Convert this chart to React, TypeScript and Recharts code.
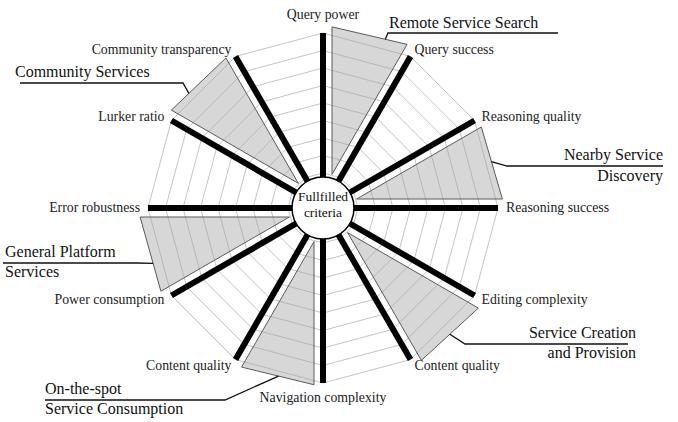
import React from 'react';
import { RadarChart, Radar, PolarGrid, PolarAngleAxis, PolarRadiusAxis } from 'recharts';

// ---------- data ----------
const criteria = [
  'Query power',
  'Query success',
  'Reasoning quality',
  'Reasoning success',
  'Editing complexity',
  'Content quality',
  'Navigation complexity',
  'Content quality',
  'Power consumption',
  'Error robustness',
  'Lurker ratio',
  'Community transparency',
];
// fulfilled-criteria extent of each grey wedge side (scale 0..10, wedges overshoot the grid)
const fulfilled = [10.35, 10.5, 10.15, 10.25, 10.55, 10.35, 10.1, 10.2, 10.4, 10.45, 10.3, 10.2];
// the full axis length drawn as thick spokes
const axisMax = [10, 10, 10, 10, 10, 10, 10, 10, 10, 10, 10, 10];
const groupLines = [
  ['Remote Service Search'],
  ['Nearby Service', 'Discovery'],
  ['Service Creation', 'and Provision'],
  ['On-the-spot', 'Service Consumption'],
  ['General Platform', 'Services'],
  ['Community Services'],
];
const centerLines = ['Fullfilled', 'criteria'];
const radiusDomain = [0, 10];
const radiusTickCount = 11;

// ---------- layout (positions / styles) ----------
const W = 678;
const H = 422;
const CX = 323;
const CY = 208;
const OUTER = 175;
const FONT = "'Liberation Serif', 'DejaVu Serif', serif";
const WEDGE_GAP = 9;

type LineLayout = { x: number; y: number; anchor: 'start' | 'end' | 'middle' };
const groupLayout: { t: number; elbow: [number, number]; end: number; lines: LineLayout[] }[] = [
  { t: 0.71, elbow: [388, 33], end: 558, lines: [{ x: 389, y: 28, anchor: 'start' }] },
  { t: 0.48, elbow: [507, 166], end: 663, lines: [{ x: 663, y: 160, anchor: 'end' }, { x: 663, y: 181, anchor: 'end' }] },
  { t: 0.5, elbow: [465, 344], end: 628, lines: [{ x: 636, y: 338, anchor: 'end' }, { x: 636, y: 358, anchor: 'end' }] },
  { t: 0.49, elbow: [225, 400], end: 45, lines: [{ x: 45, y: 394, anchor: 'start' }, { x: 45, y: 414, anchor: 'start' }] },
  { t: 0.375, elbow: [137, 263], end: 3, lines: [{ x: 5, y: 257, anchor: 'start' }, { x: 5, y: 277, anchor: 'start' }] },
  { t: 0.32, elbow: [183, 83], end: 20, lines: [{ x: 15, y: 77, anchor: 'start' }] },
];

const data = criteria.map((c, i) => ({
  key: `c${i}`,
  fulfilled: fulfilled[i],
  axisMax: axisMax[i],
}));

const unit = (angleDeg: number) => {
  const r = (angleDeg * Math.PI) / 180;
  return [Math.cos(r), -Math.sin(r)];
};
const norm = (v: number[]) => {
  const l = Math.hypot(v[0], v[1]) || 1;
  return [v[0] / l, v[1] / l];
};

const WedgeShape = (props: any) => {
  const pts = props.points || [];
  const els: React.ReactNode[] = [];
  for (let g = 0; g < groupLines.length; g++) {
    const a = pts[2 * g];
    const b = pts[2 * g + 1];
    if (!a || !b) continue;
    const cx = a.cx ?? CX;
    const cy = a.cy ?? CY;
    const ua = unit(a.angle);
    const ub = unit(b.angle);
    const m = norm([ua[0] + ub[0], ua[1] + ub[1]]);
    const dotA = m[0] * ua[0] + m[1] * ua[1];
    const dotB = m[0] * ub[0] + m[1] * ub[1];
    const na = norm([m[0] - dotA * ua[0], m[1] - dotA * ua[1]]);
    const nb = norm([m[0] - dotB * ub[0], m[1] - dotB * ub[1]]);
    const half = Math.acos(Math.max(-1, Math.min(1, ua[0] * ub[0] + ua[1] * ub[1]))) / 2;
    const apexD = WEDGE_GAP / Math.sin(half);
    const A = [cx + a.radius * ua[0] + WEDGE_GAP * na[0], cy + a.radius * ua[1] + WEDGE_GAP * na[1]];
    const B = [cx + b.radius * ub[0] + WEDGE_GAP * nb[0], cy + b.radius * ub[1] + WEDGE_GAP * nb[1]];
    const P = [cx + m[0] * apexD, cy + m[1] * apexD];
    els.push(
      <polygon
        key={`w${g}`}
        points={`${P[0]},${P[1]} ${A[0]},${A[1]} ${B[0]},${B[1]}`}
        fill="#a6a6a6"
        fillOpacity={0.45}
        stroke="#5a5a5a"
        strokeWidth={1}
        strokeLinejoin="miter"
      />
    );
    const lay = groupLayout[g];
    const L = [A[0] + lay.t * (B[0] - A[0]), A[1] + lay.t * (B[1] - A[1])];
    els.push(
      <polyline
        key={`l${g}`}
        points={`${L[0]},${L[1]} ${lay.elbow[0]},${lay.elbow[1]} ${lay.end},${lay.elbow[1]}`}
        fill="none"
        stroke="#111"
        strokeWidth={1.3}
      />
    );
    groupLines[g].forEach((txt, j) => {
      const ln = lay.lines[j];
      els.push(
        <text
          key={`t${g}-${j}`}
          x={ln.x}
          y={ln.y}
          textAnchor={ln.anchor}
          fontFamily={FONT}
          fontSize={16}
          fill="#111"
        >
          {txt}
        </text>
      );
    });
  }
  return <g>{els}</g>;
};

const SpokeShape = (props: any) => {
  const pts = props.points || [];
  const cx = pts[0]?.cx ?? CX;
  const cy = pts[0]?.cy ?? CY;
  return (
    <g>
      {pts.map((p: any, i: number) => (
        <line key={i} x1={cx} y1={cy} x2={p.x} y2={p.y} stroke="#000" strokeWidth={6} />
      ))}
      <circle cx={cx} cy={cy} r={31} fill="#fff" stroke="#000" strokeWidth={1.5} />
      {centerLines.map((t, i) => (
        <text
          key={t}
          x={cx}
          y={cy - 7 + i * 16}
          textAnchor="middle"
          fontFamily={FONT}
          fontSize={13.5}
          fill="#111"
        >
          {t}
        </text>
      ))}
    </g>
  );
};

const renderTick = (p: any) => {
  const { x, y, payload } = p;
  const idx = Number(String(payload.value).slice(1));
  const ang = (payload.coordinate * Math.PI) / 180;
  const c = Math.cos(ang);
  const s = Math.sin(ang);
  let anchor: 'start' | 'end' | 'middle' = Math.abs(c) < 0.01 ? 'middle' : c > 0 ? 'start' : 'end';
  let dy = 4;
  if (anchor === 'middle') dy = s > 0 ? -6 : 11;
  return (
    <text x={x} y={y + dy} textAnchor={anchor} fontFamily={FONT} fontSize={13.8} fill="#222">
      {criteria[idx]}
    </text>
  );
};

export default function App() {
  return (
    <div style={{ position: 'absolute', left: 0, top: 0, width: W, height: H, background: '#fff' }}>
      <RadarChart
        width={W}
        height={H}
        data={data}
        cx={CX}
        cy={CY}
        outerRadius={OUTER}
        innerRadius={0}
        startAngle={90}
        endAngle={-270}
        margin={{ top: 0, right: 0, bottom: 0, left: 0 }}
      >
        <PolarGrid gridType="polygon" radialLines={false} stroke="#c4c4c4" strokeWidth={1} />
        <PolarAngleAxis dataKey="key" tick={renderTick} tickLine={false} axisLine={false} />
        <PolarRadiusAxis
          domain={radiusDomain}
          tickCount={radiusTickCount}
          allowDataOverflow
          tick={false}
          axisLine={false}
        />
        <Radar dataKey="fulfilled" isAnimationActive={false} shape={WedgeShape} />
        <Radar dataKey="axisMax" isAnimationActive={false} shape={SpokeShape} />
      </RadarChart>
    </div>
  );
}
